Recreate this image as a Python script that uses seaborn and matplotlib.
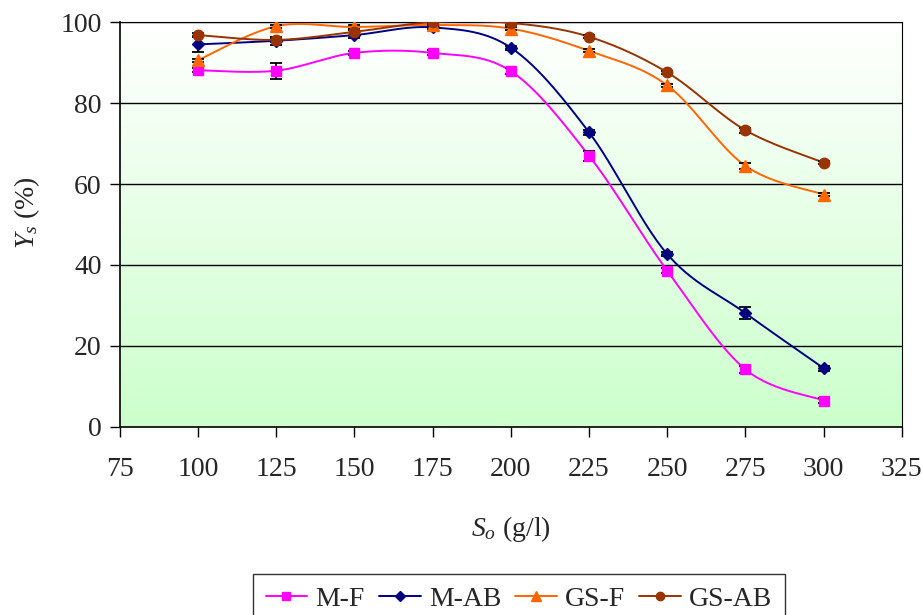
import numpy as np
import pandas as pd
import matplotlib
matplotlib.use("Agg")
import matplotlib.pyplot as plt
from matplotlib.lines import Line2D
import seaborn as sns

# Substrate concentration S_o (g/l)
s0 = [100, 125, 150, 175, 200, 225, 250, 275, 300]

# Sugar utilisation Y_s (%) for each fermentation set-up
ys_mf = [88.1, 88.0, 92.4, 92.4, 87.9, 67.0, 38.6, 14.2, 6.5]
ys_mab = [94.5, 95.4, 96.8, 98.7, 93.7, 72.8, 42.7, 28.1, 14.5]
ys_gsf = [90.6, 99.0, 98.8, 99.3, 98.4, 92.9, 84.4, 64.5, 57.4]
ys_gsab = [96.8, 95.6, 97.6, 100.0, 99.8, 96.4, 87.6, 73.3, 65.3]

# Standard deviations
err_mf = [0.5, 2.0, 0.5, 0.6, 0.7, 1.2, 0.6, 0.9, 0.5]
err_mab = [2.0, 1.0, 0.6, 0.5, 0.5, 0.6, 0.6, 1.5, 0.6]
err_gsf = [0.4, 0.4, 0.4, 0.4, 0.4, 0.4, 0.4, 0.8, 0.4]
err_gsab = [0.4, 0.4, 0.4, 0.4, 0.4, 0.4, 0.4, 0.6, 0.4]

series_names = ["M-F", "M-AB", "GS-F", "GS-AB"]
series_vals = [ys_mf, ys_mab, ys_gsf, ys_gsab]
series_errs = [err_mf, err_mab, err_gsf, err_gsab]
colors = ["#FF00FF", "#000080", "#FF6600", "#993300"]
markers = ["s", "D", "^", "o"]
msizes = [7.0, 6.5, 8.5, 7.5]

x_ticks = [75, 100, 125, 150, 175, 200, 225, 250, 275, 300, 325]
y_ticks = [0, 20, 40, 60, 80, 100]


def bezier_smooth(x, y, n=30):
    """Smoothed line through the points using cubic Bezier segments."""
    x = np.asarray(x, float)
    y = np.asarray(y, float)
    px = np.concatenate([[x[0]], x, [x[-1]]])
    py = np.concatenate([[y[0]], y, [y[-1]]])
    outx, outy = [], []
    t = np.linspace(0, 1, n)
    for i in range(1, len(px) - 2):
        p0 = np.array([px[i], py[i]])
        p3 = np.array([px[i + 1], py[i + 1]])
        c1 = p0 + (np.array([px[i + 1], py[i + 1]]) - np.array([px[i - 1], py[i - 1]])) / 6
        c2 = p3 - (np.array([px[i + 2], py[i + 2]]) - np.array([px[i], py[i]])) / 6
        pts = ((1 - t) ** 3)[:, None] * p0 + (3 * (1 - t) ** 2 * t)[:, None] * c1 \
            + (3 * (1 - t) * t ** 2)[:, None] * c2 + (t ** 3)[:, None] * p3
        if i > 1:
            pts = pts[1:]
        outx.extend(pts[:, 0])
        outy.extend(pts[:, 1])
    return np.array(outx), np.array(outy)


sns.set_theme(style="white")
plt.rcParams["font.family"] = ["Liberation Serif", "DejaVu Serif"]
plt.rcParams["mathtext.fontset"] = "custom"
plt.rcParams["mathtext.rm"] = "Liberation Serif"
plt.rcParams["mathtext.it"] = "Liberation Serif:italic"

FS = 20

fig = plt.figure(figsize=(9.22, 6.15), dpi=100)
fig.patch.set_facecolor("white")
ax = fig.add_axes([0.130, 0.306, 0.848, 0.658])

# Plot-area gradient: white at the top to pale green at the bottom
grad = np.linspace(0, 1, 256)[:, None]
top = np.array([1.0, 1.0, 1.0])
bottom = np.array([0.80, 1.0, 0.80])
img = top[None, None, :] * (1 - grad[..., None]) + bottom[None, None, :] * grad[..., None]
ax.imshow(img, extent=[75, 325, 0, 100], origin="upper", aspect="auto", zorder=0)

for yv in y_ticks[1:]:
    ax.axhline(yv, color="black", lw=1.0, zorder=1)

for name, vals, errs, col, mk, ms in zip(series_names, series_vals, series_errs,
                                          colors, markers, msizes):
    sx, sy = bezier_smooth(s0, vals)
    sns.lineplot(x=sx, y=sy, ax=ax, color=col, lw=1.4, sort=False,
                 estimator=None, zorder=3)
    ax.errorbar(s0, vals, yerr=errs, fmt="none", ecolor="black", elinewidth=1.2,
                capsize=4.5, capthick=1.3, zorder=4)
    ax.plot(s0, vals, linestyle="none", marker=mk, markersize=ms, color=col,
            markeredgecolor=col, zorder=5)

ax.set_xlim(75, 325)
ax.set_ylim(0, 100)
ax.set_xticks(x_ticks)
ax.set_yticks(y_ticks)
ax.tick_params(axis="both", which="major", labelsize=FS, direction="out",
               length=7, width=1, color="black", bottom=True, left=True)
ax.tick_params(axis="x", pad=15)
ax.tick_params(axis="y", pad=6)

for side in ["left", "bottom", "right", "top"]:
    ax.spines[side].set_color("black")
    ax.spines[side].set_linewidth(1.2)
ax.spines["right"].set_linewidth(0.8)
ax.spines["top"].set_linewidth(0.8)

ax.set_xlabel(r"$\mathit{S}_{\mathit{o}}$ (g/l)", fontsize=FS)
ax.set_ylabel(r"$\mathit{Y}_{\mathit{s}}$ (%)", fontsize=FS)
ax.xaxis.set_label_coords(0.5, -0.215)
ax.yaxis.set_label_coords(-0.1, 0.53)

handles = [Line2D([0], [0], color=c, lw=1.4, marker=m, markersize=ms * 0.8,
                  markeredgecolor=c) for c, m, ms in zip(colors, markers, msizes)]
leg = fig.legend(handles, series_names, loc="upper center",
                 bbox_to_anchor=(0.563, 1 - 574 / 615), ncol=4, fontsize=FS,
                 frameon=True, fancybox=False, handlelength=1.5,
                 handletextpad=0.3, columnspacing=0.5, borderpad=0.45,
                 borderaxespad=0)
leg.get_frame().set_edgecolor("black")
leg.get_frame().set_linewidth(1.0)

fig.savefig("out.png", dpi=100, facecolor="white")
